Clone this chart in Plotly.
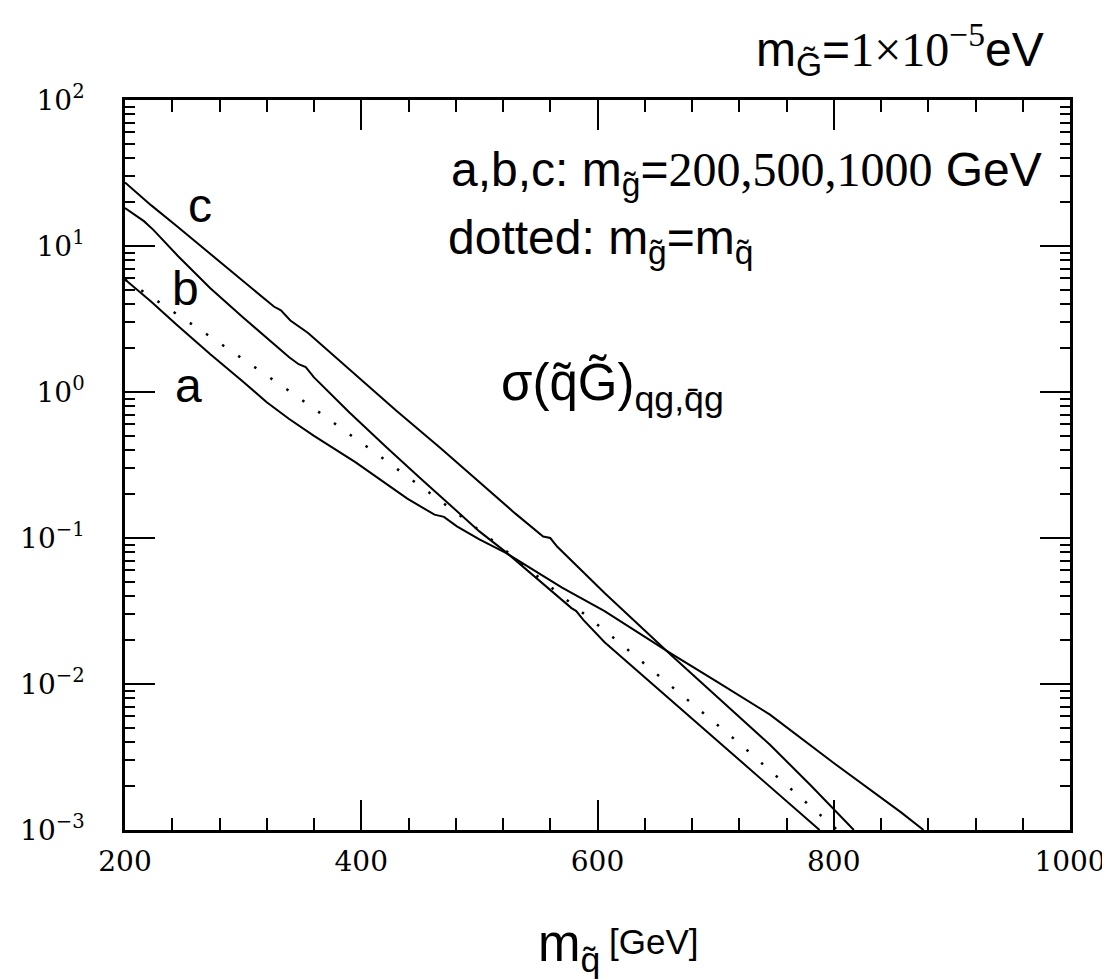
import plotly.graph_objects as go

# ---- data (x = squark mass [GeV], y = cross section) ----
a_x = [200, 222, 244, 272, 300, 320, 339, 360, 395, 439, 462, 470, 481, 500, 522, 540, 570, 606, 635, 662, 700, 746, 800, 857, 876]
a_y = [5.89, 4.17, 2.88, 1.82, 1.175, 0.851, 0.653, 0.501, 0.331, 0.186, 0.1445, 0.1396, 0.1202, 0.0977, 0.0794,
       0.0646, 0.0457, 0.0316, 0.0224, 0.0162, 0.0105, 0.00617, 0.00288, 0.00132, 0.00100]

b_x = [200, 210, 216, 224, 245, 272, 300, 339, 347, 353, 360, 390, 422, 450, 478, 500, 523, 550, 578, 582, 588, 606, 640, 690, 740, 788]
b_y = [18.2, 15.85, 14.8, 12.9, 8.51, 5.15, 3.24, 1.73, 1.55, 1.48, 1.26, 0.724, 0.413, 0.257, 0.160, 0.111,
       0.0794, 0.0513, 0.0331, 0.0316, 0.0275, 0.0193, 0.0111, 0.0049, 0.00216, 0.00100]

c_x = [200, 222, 244, 280, 310, 326, 332, 340, 355, 395, 430, 467, 500, 530, 554, 560, 566, 606, 662, 700, 746, 780, 817]
c_y = [27.2, 19.05, 13.65, 7.85, 4.90, 3.85, 3.63, 3.09, 2.535, 1.312, 0.741, 0.413, 0.240, 0.148, 0.1023, 0.100,
       0.0871, 0.0420, 0.01585, 0.00832, 0.00384, 0.00204, 0.00100]

d_x = [200, 215, 272, 343, 413, 482, 523, 612, 718, 796, 803]
d_y = [5.89, 4.90, 2.40, 0.966, 0.3776, 0.1459, 0.0811, 0.02123, 0.004055, 0.001117, 0.00100]

x_ticks = [200, 400, 600, 800, 1000]
y_tickvals = [1e-3, 1e-2, 1e-1, 1, 10, 100]
y_ticktext = ["10<sup>\u22123</sup>", "10<sup>\u22122</sup>", "10<sup>\u22121</sup>",
              "10<sup>0</sup>", "10<sup>1</sup>", "10<sup>2</sup>"]

# ---- layout geometry (pixels) ----
W, H = 1110, 979
L, R, T, B = 114, 1071, 92, 822


def px(x):
    return (x - L) / (R - L)


def py(y):
    return 1 - (y - T) / (B - T)


fig = go.Figure()
line = dict(color="black", width=2)
for xs, ys in [(a_x, a_y), (b_x, b_y), (c_x, c_y)]:
    fig.add_trace(go.Scatter(x=xs, y=ys, mode="lines", line=line, showlegend=False, hoverinfo="skip"))
fig.add_trace(go.Scatter(x=d_x, y=d_y, mode="lines", line=dict(color="black", width=2.5, dash="2.5px,17px"),
                         showlegend=False, hoverinfo="skip"))

tickfont = dict(family="DejaVu Serif", size=28, color="black")
fig.update_xaxes(range=[200, 1000], tickvals=x_ticks, ticktext=[str(v) for v in x_ticks],
                 ticks="inside", ticklen=30, tickwidth=2, tickcolor="black",
                 showline=True, linewidth=2.5, linecolor="black", mirror="ticks",
                 showgrid=False, zeroline=False, tickfont=tickfont, ticklabelstandoff=5,
                 minor=dict(dtick=40, ticks="inside", ticklen=12, tickwidth=2, tickcolor="black", showgrid=False))
fig.update_yaxes(type="log", range=[-3, 2], tickvals=y_tickvals, ticktext=y_ticktext,
                 ticks="inside", ticklen=30, tickwidth=2, tickcolor="black",
                 showline=True, linewidth=2.5, linecolor="black", mirror="ticks",
                 showgrid=False, zeroline=False, tickfont=tickfont, ticklabelstandoff=32,
                 minor=dict(dtick="D1", ticks="inside", ticklen=10, tickwidth=2, tickcolor="black", showgrid=False))

SERIF = "style=\"font-family:'Liberation Serif'\""
ann_font = dict(family="Liberation Sans", size=48, color="black")
anns = [
    dict(text="m<sub>G\u0303</sub>=<span %s>1\u00d710<sup>\u22125</sup></span>eV" % SERIF,
         x=px(1047), y=py(42), xanchor="right", yanchor="middle"),
    dict(text="a,b,c: m<sub>g\u0303</sub>=<span %s>200,500,1000</span> GeV" % SERIF,
         x=px(1045), y=py(165), xanchor="right", yanchor="middle"),
    dict(text="dotted: m<sub>g\u0303</sub>=m<sub>q\u0303</sub>",
         x=px(439), y=py(233), xanchor="left", yanchor="middle"),
    dict(text="\u03c3(q\u0303G\u0303)<sub>qg,q\u0304g</sub>",
         x=px(493), y=py(378), xanchor="left", yanchor="middle", font=dict(size=51)),
    dict(text="c", x=px(190), y=py(198), xanchor="center", yanchor="middle"),
    dict(text="b", x=px(175), y=py(280), xanchor="center", yanchor="middle"),
    dict(text="a", x=px(178), y=py(377), xanchor="center", yanchor="middle"),
    dict(text="m<sub>q\u0303</sub>", x=px(530), y=py(940), xanchor="left", yanchor="middle", font=dict(size=51)),
    dict(text="[GeV]", x=px(602), y=py(933), xanchor="left", yanchor="middle", font=dict(size=35)),
]
for a in anns:
    f = dict(ann_font)
    f.update(a.pop("font", {}))
    a.update(xref="paper", yref="paper", showarrow=False, font=f)
fig.update_layout(annotations=anns)

fig.update_layout(width=W, height=H, margin=dict(l=L, r=W - R, t=T, b=H - B),
                  paper_bgcolor="white", plot_bgcolor="white")

fig.write_html("out.html")
